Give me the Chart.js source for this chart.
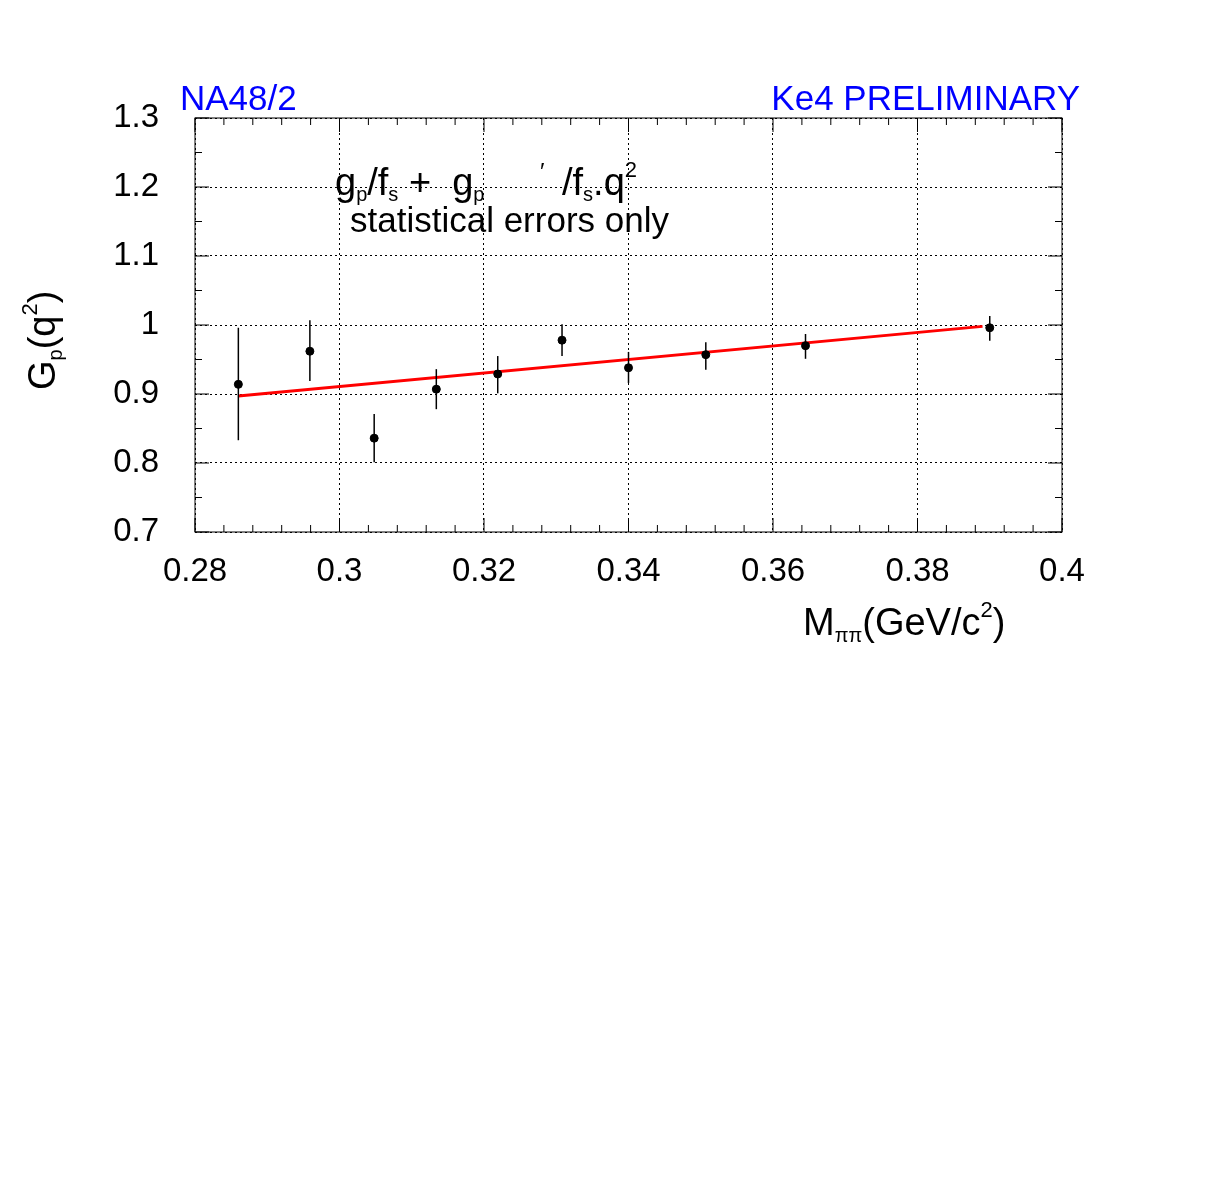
<!DOCTYPE html>
<html><head><meta charset="utf-8">
<script src="https://cdn.jsdelivr.net/npm/chart.js@4"></script>
<style>html,body{margin:0;padding:0;background:#fff}#w{width:1211px;height:1182px}</style>
</head><body><div id="w"><canvas id="c"></canvas></div>
<script>
const massX = [0.286, 0.2959, 0.3048, 0.3134, 0.3219, 0.3308, 0.340, 0.3507, 0.3645, 0.390];
const gpVal = [0.914, 0.962, 0.836, 0.907, 0.929, 0.978, 0.938, 0.957, 0.970, 0.996];
const errUp = [0.996, 1.007, 0.871, 0.936, 0.955, 1.001, 0.961, 0.975, 0.987, 1.013];
const errDn = [0.833, 0.919, 0.801, 0.878, 0.901, 0.955, 0.916, 0.935, 0.951, 0.977];
const fitX = [0.286, 0.389];
const fitY = [0.897, 0.998];
const xTicks = [0.28, 0.30, 0.32, 0.34, 0.36, 0.38, 0.40];
const yTicks = [0.7, 0.8, 0.9, 1.0, 1.1, 1.2, 1.3];

const F = '"Liberation Sans", Arial, sans-serif';
// rich text: parts [text, size, dy]
function rich(c, x, y, parts) {
  let cx = x;
  parts.forEach(([t, s, dy]) => {
    c.font = s + 'px ' + F;
    c.fillText(t, cx, y + dy);
    cx += c.measureText(t).width;
  });
}
const extras = {
  id: 'extras',
  afterDatasetsDraw(ch) {
    const c = ch.ctx, xs = ch.scales.x, ys = ch.scales.y, a = ch.chartArea;
    c.save();
    c.strokeStyle = '#000'; c.lineWidth = 1.5;
    massX.forEach((x, i) => {
      const px = xs.getPixelForValue(x);
      c.beginPath(); c.moveTo(px, ys.getPixelForValue(errUp[i])); c.lineTo(px, ys.getPixelForValue(errDn[i])); c.stroke();
    });
    c.lineWidth = 1;
    c.strokeRect(a.left, a.top, a.right - a.left, a.bottom - a.top);
    for (let k = 0; k <= 30; k++) {
      const v = 0.28 + k * 0.004, px = xs.getPixelForValue(v), L = (k % 5 === 0) ? 14 : 7;
      c.beginPath(); c.moveTo(px, a.bottom); c.lineTo(px, a.bottom - L); c.moveTo(px, a.top); c.lineTo(px, a.top + L); c.stroke();
    }
    for (let k = 0; k <= 12; k++) {
      const v = 0.7 + k * 0.05, py = ys.getPixelForValue(v), L = (k % 2 === 0) ? 14 : 7;
      c.beginPath(); c.moveTo(a.left, py); c.lineTo(a.left + L, py); c.moveTo(a.right, py); c.lineTo(a.right - L, py); c.stroke();
    }
    c.fillStyle = '#0000ff'; c.font = '35px ' + F; c.textBaseline = 'alphabetic';
    c.textAlign = 'left'; c.fillText('NA48/2', 180, 110);
    c.textAlign = 'right'; c.fillText('Ke4 PRELIMINARY', 1080, 110);
    c.fillStyle = '#000'; c.textAlign = 'left';
    rich(c, 335, 195, [['g', 38, 0], ['p', 20, 6], ['/f', 38, 0], ['s', 20, 6], [' +  g', 38, 0], ['p', 20, 6]]);
    c.font = '24px ' + F; c.fillText('′', 540, 180);
    rich(c, 562, 195, [['/f', 38, 0], ['s', 20, 6], ['.q', 38, 0], ['2', 22, -18]]);
    c.font = '35px ' + F; c.fillText('statistical errors only', 350, 232);
    rich(c, 803, 635, [['M', 38, 0], ['ππ', 20, 7], ['(GeV/c', 38, 0], ['2', 22, -18], [')', 38, 0]]);
    c.translate(55, 390); c.rotate(-Math.PI / 2);
    rich(c, 0, 0, [['G', 38, 0], ['p', 20, 7], ['(q', 38, 0], ['2', 22, -18], [')', 38, 0]]);
    c.restore();
  }
};

new Chart(document.getElementById('c'), {
  type: 'scatter',
  data: {
    datasets: [
      { data: fitX.map((x, i) => ({ x, y: fitY[i] })), showLine: true, borderColor: '#ff0000', borderWidth: 3, pointRadius: 0, order: 1 },
      { data: massX.map((x, i) => ({ x, y: gpVal[i] })), backgroundColor: '#000', borderColor: '#000', pointRadius: 4, order: 0 }
    ]
  },
  options: {
    responsive: true, maintainAspectRatio: false, animation: false,
    layout: { padding: { left: 0, top: 118, right: 149, bottom: 560 } },
    plugins: { legend: { display: false }, tooltip: { enabled: false } },
    scales: {
      x: {
        type: 'linear', min: 0.28, max: 0.4,
        afterBuildTicks: s => { s.ticks = xTicks.map(v => ({ value: v })); },
        afterFit: s => { s.height = 90; },
        border: { display: false, dash: [2, 3] },
        grid: { color: '#000', lineWidth: 1, drawTicks: false },
        ticks: { color: '#000', font: { family: F, size: 33 }, padding: 20, maxRotation: 0, callback: v => String(+v.toFixed(2)) }
      },
      y: {
        min: 0.7, max: 1.3,
        afterBuildTicks: s => { s.ticks = yTicks.map(v => ({ value: v })); },
        afterFit: s => { s.width = 195; },
        border: { display: false, dash: [2, 3] },
        grid: { color: '#000', lineWidth: 1, drawTicks: false },
        ticks: { color: '#000', font: { family: F, size: 33 }, padding: 36, callback: v => String(+v.toFixed(1)) }
      }
    }
  },
  plugins: [extras]
});
</script></body></html>
